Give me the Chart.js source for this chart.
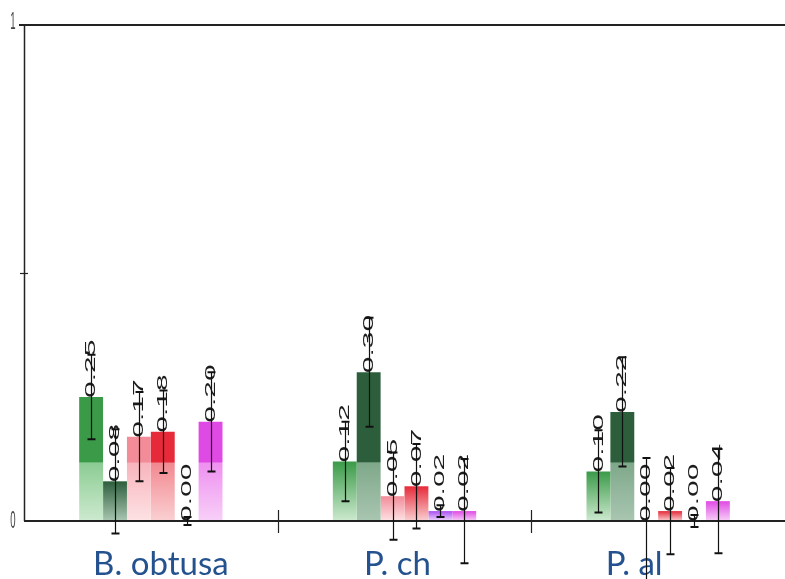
<!DOCTYPE html>
<html>
<head>
<meta charset="utf-8">
<script src="https://cdn.jsdelivr.net/npm/chart.js@4/dist/chart.umd.min.js"></script>
<style>
  html, body { margin: 0; padding: 0; background: #fff; }
  #wrap { width: 785px; height: 579px; }
</style>
</head>
<body>
<div id="wrap"><canvas id="c" width="785" height="579"></canvas></div>
<script>
// Species groups along the x axis
const categories = ['B. obtusa', 'P. ch', 'P. al'];

// Mean values, one array per series (six bars per species)
const series1 = [0.25, 0.12, 0.10];
const series2 = [0.08, 0.30, 0.22];
const series3 = [0.17, 0.05, 0.00];
const series4 = [0.18, 0.07, 0.02];
const series5 = [0.00, 0.02, 0.00];
const series6 = [0.20, 0.02, 0.04];

// Error bar half-lengths for each series
const errors1 = [0.085, 0.080, 0.083];
const errors2 = [0.105, 0.110, 0.110];
const errors3 = [0.090, 0.088, 0.127];
const errors4 = [0.083, 0.085, 0.087];
const errors5 = [0.008, 0.012, 0.012];
const errors6 = [0.100, 0.105, 0.105];

// Y axis labels
const yTickValues = [0, 1];
const yTickLabels = ['0', '1'];

// Horizontal nudge of each species name relative to its group centre (px)
const labelNudge = [10, -7, -24];

// Level (in axis units) below which the bar fill turns paler
const shadeBreak = 0.117;

// [top colour, colour just below the shade break, colour at the base]
const palette = [
  ['#3a9a48', '#8ccc94', '#cdeacf'],
  ['#2d5e3c', '#7fa88a', '#a9c6b1'],
  ['#f28c98', '#f8b4bc', '#fde2e4'],
  ['#e62a3a', '#f28890', '#fad0d2'],
  ['#a94ef2', '#d4a0f8', '#eed8fc'],
  ['#e04ae4', '#ee90f0', '#f8d0f8']
];

const values = [series1, series2, series3, series4, series5, series6];
const errors = [errors1, errors2, errors3, errors4, errors5, errors6];

// Vertical gradient: saturated top, a paler band below the break, fading to the base
function barFill(idx) {
  return function (ctx) {
    const chart = ctx.chart;
    const [top, mid, pale] = palette[idx];
    if (!chart.chartArea || ctx.dataIndex === undefined) return top;
    const v = ctx.dataset.data[ctx.dataIndex];
    const y = chart.scales.y;
    const yTop = y.getPixelForValue(v);
    const yBot = y.getPixelForValue(0);
    const h = yBot - yTop;
    if (h < 1) return top;
    const yBreak = y.getPixelForValue(shadeBreak);
    const g = chart.ctx.createLinearGradient(0, yTop, 0, yBot);
    g.addColorStop(0, top);
    if (yBreak - yTop > 2) {
      const f = (yBreak - yTop) / h;
      g.addColorStop(Math.max(0, f - 0.01), top);
      g.addColorStop(f, mid);
    }
    g.addColorStop(1, pale);
    return g;
  };
}

const datasets = values.map((data, i) => ({
  label: 'S' + (i + 1),
  data: data,
  errors: errors[i],
  backgroundColor: barFill(i),
  borderWidth: 0
}));

// Axes frame, separators, y labels and species names
const framePlugin = {
  id: 'frame',
  afterDatasetsDraw(chart) {
    const { ctx, chartArea: a } = chart;
    const xs = chart.scales.x, ys = chart.scales.y;
    ctx.save();
    ctx.strokeStyle = '#222';
    // top rule
    ctx.lineWidth = 2;
    ctx.beginPath(); ctx.moveTo(19, a.top); ctx.lineTo(a.right, a.top); ctx.stroke();
    // left axis
    ctx.lineWidth = 1.5;
    ctx.beginPath(); ctx.moveTo(a.left + 0.5, a.top); ctx.lineTo(a.left + 0.5, a.bottom); ctx.stroke();
    // bottom axis
    ctx.lineWidth = 2;
    ctx.beginPath(); ctx.moveTo(a.left, a.bottom); ctx.lineTo(a.right, a.bottom); ctx.stroke();
    // mid tick on y axis
    const ym = Math.round(ys.getPixelForValue(0.5)) + 0.5;
    ctx.lineWidth = 1.2;
    ctx.beginPath(); ctx.moveTo(a.left - 4, ym); ctx.lineTo(a.left + 4, ym); ctx.stroke();
    // category separators crossing the x axis
    for (let i = 0; i < categories.length - 1; i++) {
      const xb = Math.round((xs.getPixelForValue(i) + xs.getPixelForValue(i + 1)) / 2) + 0.5;
      ctx.beginPath(); ctx.moveTo(xb, a.bottom - 11); ctx.lineTo(xb, a.bottom + 12); ctx.stroke();
    }
    // y labels, tall and narrow
    ctx.fillStyle = '#444';
    ctx.font = '12px "Liberation Sans", Arial, sans-serif';
    ctx.textAlign = 'center';
    ctx.textBaseline = 'middle';
    yTickValues.forEach((v, i) => {
      ctx.save();
      ctx.translate(13, ys.getPixelForValue(v) - (v === 1 ? 3 : 0));
      ctx.scale(0.8, 2);
      ctx.fillText(yTickLabels[i], 0, 0);
      ctx.restore();
    });
    // species names
    ctx.fillStyle = '#24528f';
    ctx.font = '33px Lato, "Open Sans", sans-serif';
    ctx.textBaseline = 'alphabetic';
    categories.forEach((c, i) => {
      ctx.fillText(c, xs.getPixelForValue(i) + labelNudge[i], 575);
    });
    ctx.restore();
  }
};

// Rotated value labels and error bars on every bar
const barNotes = {
  id: 'barNotes',
  afterDatasetsDraw(chart) {
    const { ctx } = chart;
    const ys = chart.scales.y;
    ctx.save();
    // value labels
    ctx.fillStyle = '#1c1c1c';
    ctx.font = '15px "Liberation Sans", Arial, sans-serif';
    ctx.textAlign = 'left';
    ctx.textBaseline = 'middle';
    chart.data.datasets.forEach((ds, di) => {
      chart.getDatasetMeta(di).data.forEach((bar, i) => {
        const v = ds.data[i];
        ctx.save();
        ctx.translate(bar.x, ys.getPixelForValue(v) + 1);
        ctx.rotate(-Math.PI / 2);
        ctx.scale(2, 1);
        ctx.fillText(v.toFixed(2), 0, 0);
        ctx.restore();
      });
    });
    // error bars
    ctx.strokeStyle = '#111';
    chart.data.datasets.forEach((ds, di) => {
      chart.getDatasetMeta(di).data.forEach((bar, i) => {
        const v = ds.data[i], e = ds.errors[i];
        const x = Math.round(bar.x) + 0.5;
        const yHi = ys.getPixelForValue(v + e);
        const yLo = ys.getPixelForValue(v - e);
        ctx.lineWidth = 1.2;
        ctx.beginPath(); ctx.moveTo(x, yHi); ctx.lineTo(x, yLo); ctx.stroke();
        ctx.lineWidth = 2;
        ctx.beginPath();
        ctx.moveTo(x - 4, yHi); ctx.lineTo(x + 4, yHi);
        ctx.moveTo(x - 4, yLo); ctx.lineTo(x + 4, yLo);
        ctx.stroke();
      });
    });
    ctx.restore();
  }
};

new Chart(document.getElementById('c'), {
  type: 'bar',
  data: { labels: categories, datasets: datasets },
  options: {
    responsive: false,
    animation: false,
    devicePixelRatio: 1,
    layout: { padding: { left: 24, top: 25, right: 0, bottom: 58 } },
    datasets: { bar: { barPercentage: 1, categoryPercentage: 0.565 } },
    scales: {
      x: { display: false },
      y: { display: false, min: 0, max: 1 }
    },
    plugins: { legend: { display: false }, tooltip: { enabled: false } }
  },
  plugins: [framePlugin, barNotes]
});
</script>
</body>
</html>
